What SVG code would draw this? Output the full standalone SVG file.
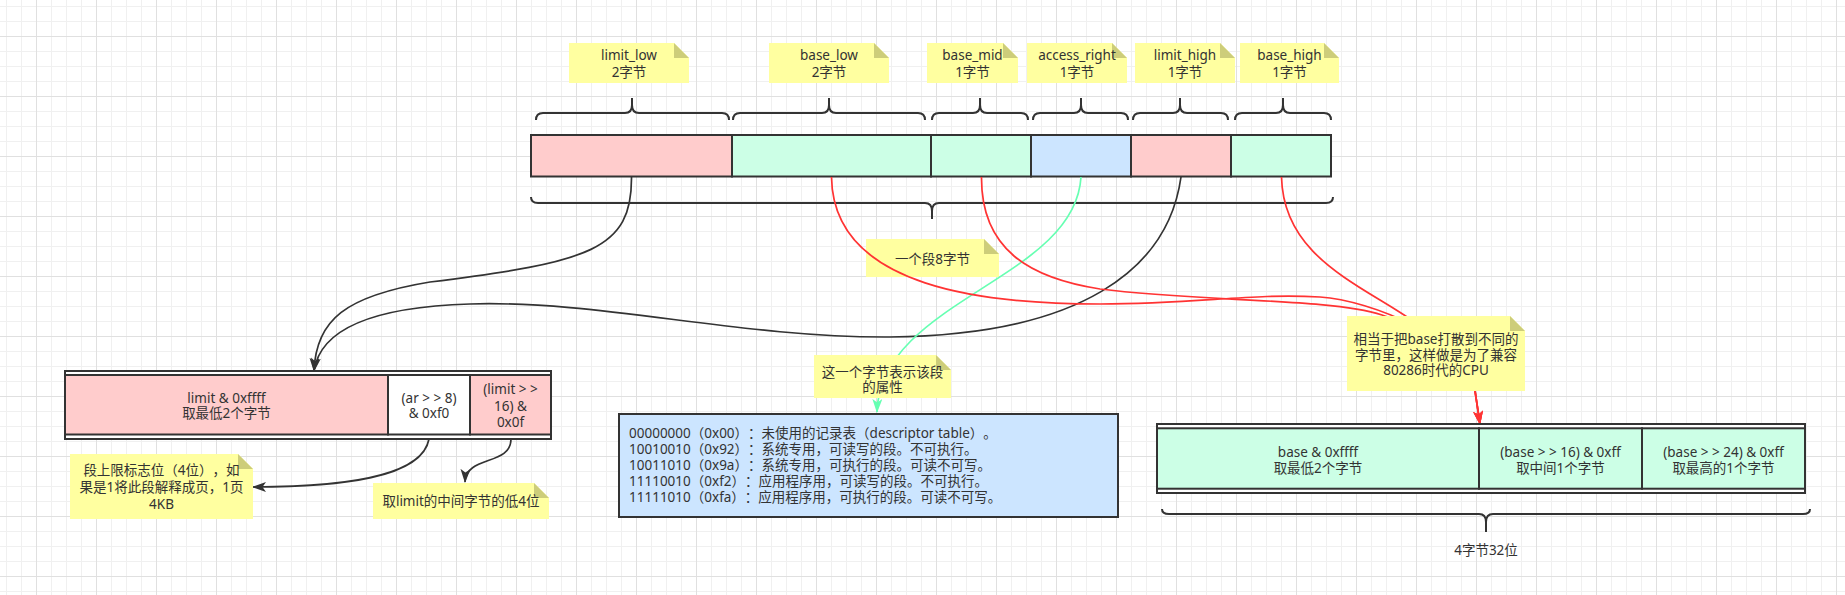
<svg xmlns="http://www.w3.org/2000/svg" width="1845" height="595" viewBox="0 0 1845 595">
<defs>
<pattern id="grid" x="36" y="36" width="60" height="60" patternUnits="userSpaceOnUse">
<path d="M15.5 0V60M30.5 0V60M45.5 0V60M0 15.5H60M0 30.5H60M0 45.5H60" stroke="#F0F0F0" stroke-width="1" fill="none"/>
<path d="M0.5 0V60M0 0.5H60" stroke="#E0E0E0" stroke-width="1" fill="none"/>
</pattern>
<marker id="aBlack" viewBox="0 0 14 10" markerWidth="14" markerHeight="10" refX="13" refY="5" orient="auto" markerUnits="userSpaceOnUse"><path d="M0,0 L14,5 L0,10 L3.5,5 Z" fill="#333333"/></marker>
<marker id="aRed" viewBox="0 0 14 10" markerWidth="14" markerHeight="10" refX="13" refY="5" orient="auto" markerUnits="userSpaceOnUse"><path d="M0,0 L14,5 L0,10 L3.5,5 Z" fill="#FF3333"/></marker>
<marker id="aGreen" viewBox="0 0 14 10" markerWidth="14" markerHeight="10" refX="13" refY="5" orient="auto" markerUnits="userSpaceOnUse"><path d="M0,0 L14,5 L0,10 L3.5,5 Z" fill="#66FFB2"/></marker>
</defs>
<style>
.cell{stroke:#333333;stroke-width:2}
.pink{fill:#FFCCCC}
.green{fill:#CCFFE6}
.blue{fill:#CCE5FF}
.white{fill:#FFFFFF}
.brace{fill:none;stroke:#333333;stroke-width:2}
.note{fill:#FFFFA0}
.fold{fill:#CDCD7A}
text{text-spacing-trim:space-all}
.t{font-family:"Noto Sans","Noto Sans CJK SC",sans-serif;font-size:13.5px;fill:#333333;text-anchor:middle;dominant-baseline:central}
.tl{font-family:"Noto Sans","Noto Sans CJK SC",sans-serif;font-size:13.5px;fill:#333333;text-anchor:start;dominant-baseline:central}
.e{fill:none;stroke-width:1.7}
.eb{stroke:#333333}
.er{stroke:#FF3333}
.eg{stroke:#66FFB2}
</style>
<rect width="1845" height="595" fill="#FFFFFF"/>
<rect width="1845" height="595" fill="url(#grid)"/>

<g id="segment-bar">
<rect class="cell pink" x="531" y="135" width="201" height="41.5"/>
<rect class="cell green" x="732" y="135" width="199" height="41.5"/>
<rect class="cell green" x="931" y="135" width="100" height="41.5"/>
<rect class="cell blue" x="1031" y="135" width="100" height="41.5"/>
<rect class="cell pink" x="1131" y="135" width="100" height="41.5"/>
<rect class="cell green" x="1231" y="135" width="100" height="41.5"/>
</g>

<g id="braces">
<path class="brace" d="M536 120Q536 113 543 113H625Q632 113 632 105V98M632 98V105Q632 113 639 113H722Q729 113 729 120"/>
<path class="brace" d="M733 120Q733 113 740 113H822Q829 113 829 105V98M829 98V105Q829 113 836 113H918Q925 113 925 120"/>
<path class="brace" d="M932 120Q932 113 939 113H973Q980 113 980 105V98M980 98V105Q980 113 987 113H1021Q1028 113 1028 120"/>
<path class="brace" d="M1033 120Q1033 113 1040 113H1074Q1081 113 1081 105V98M1081 98V105Q1081 113 1088 113H1121Q1128 113 1128 120"/>
<path class="brace" d="M1133 120Q1133 113 1140 113H1173Q1180 113 1180 105V98M1180 98V105Q1180 113 1187 113H1221Q1228 113 1228 120"/>
<path class="brace" d="M1235 120Q1235 113 1242 113H1276Q1283 113 1283 105V98M1283 98V105Q1283 113 1290 113H1324Q1331 113 1331 120"/>
<path class="brace" d="M531 197Q531 203 538 203H925Q932 203 932 211V219M932 219V211Q932 203 939 203H1326Q1333 203 1333 197"/>
<path class="brace" d="M1162 509Q1162 514 1169 514H1479Q1486 514 1486 522V532M1486 532V522Q1486 514 1493 514H1803Q1810 514 1810 509"/>
</g>

<g id="note-top-limit-low">
<path class="note" d="M569 43H674L689 58V83H569Z"/><path class="fold" d="M674 43V58H689Z"/>
<text class="t" x="629" y="55">limit_low</text><text class="t" x="629" y="71.7">2字节</text>
</g>
<g id="note-top-base-low">
<path class="note" d="M769 43H874L889 58V83H769Z"/><path class="fold" d="M874 43V58H889Z"/>
<text class="t" x="829" y="55">base_low</text><text class="t" x="829" y="71.7">2字节</text>
</g>
<g id="note-top-base-mid">
<path class="note" d="M927 43H1003L1018 58V83H927Z"/><path class="fold" d="M1003 43V58H1018Z"/>
<text class="t" x="972.5" y="55">base_mid</text><text class="t" x="972.5" y="71.7">1字节</text>
</g>
<g id="note-top-access-right">
<path class="note" d="M1027 43H1112L1127 58V83H1027Z"/><path class="fold" d="M1112 43V58H1127Z"/>
<text class="t" x="1077" y="55">access_right</text><text class="t" x="1077" y="71.7">1字节</text>
</g>
<g id="note-top-limit-high">
<path class="note" d="M1135 43H1220L1235 58V83H1135Z"/><path class="fold" d="M1220 43V58H1235Z"/>
<text class="t" x="1185" y="55">limit_high</text><text class="t" x="1185" y="71.7">1字节</text>
</g>
<g id="note-top-base-high">
<path class="note" d="M1240 43H1324L1339 58V83H1240Z"/><path class="fold" d="M1324 43V58H1339Z"/>
<text class="t" x="1289.5" y="55">base_high</text><text class="t" x="1289.5" y="71.7">1字节</text>
</g>

<g id="note-8bytes">
<path class="note" d="M866 239H984L999 254V277H866Z"/><path class="fold" d="M984 239V254H999Z"/>
<text class="t" x="932.5" y="259">一个段8字节</text>
</g>

<g id="connectors">
<path class="e eb" d="M631.5 177C632 250 590 262 430 282C345 296 316 320 314 371" marker-end="url(#aBlack)"/>
<path class="e eb" d="M1181 177C1168 270 1080 335 890 337C740 338 600 300 470 304C370 307 320 330 314 371" marker-end="url(#aBlack)"/>
<path class="e eg" d="M1081 177C1075 280 880 300 877 412" marker-end="url(#aGreen)"/>
<path class="e er" d="M831.5 177C833 290 990 304 1100 304C1200 304 1250 293 1320 297C1370 300 1470 340 1475 391L1480 424" marker-end="url(#aRed)"/>
<path class="e er" d="M981.5 177C981 250 1030 278 1100 289C1200 302 1330 298 1382 315C1440 335 1472 360 1475 391L1480 424" marker-end="url(#aRed)"/>
<path class="e er" d="M1281.5 177C1283 240 1330 270 1380 300C1430 330 1472 360 1475 391L1480 424" marker-end="url(#aRed)"/>
<path class="e eb" d="M429 439C422 478 340 487 253 487" marker-end="url(#aBlack)"/>
<path class="e eb" d="M511 439C511 466 466 455 465 482" marker-end="url(#aBlack)"/>
</g>

<g id="note-attr">
<path class="note" d="M814 355H936L951 370V398H814Z"/><path class="fold" d="M936 355V370H951Z"/>
<text class="t" x="882.5" y="371.7">这一个字节表示该段</text><text class="t" x="882.5" y="386.7">的属性</text>
</g>
<g id="note-base-scatter">
<path class="note" d="M1347 316H1510L1525 331V391H1347Z"/><path class="fold" d="M1510 316V331H1525Z"/>
<text class="t" x="1436" y="339.3">相当于把base打散到不同的</text>
<text class="t" x="1436" y="354.8">字节里，这样做是为了兼容</text>
<text class="t" x="1436" y="370.3">80286时代的CPU</text>
</g>
<g id="note-granularity">
<path class="note" d="M70 454H238L253 469V519H70Z"/><path class="fold" d="M238 454V469H253Z"/>
<text class="t" x="161.5" y="470">段上限标志位（4位），如</text>
<text class="t" x="161.5" y="487">果是1将此段解释成页，1页</text>
<text class="t" x="161.5" y="504">4KB</text>
</g>
<g id="note-limit-mid">
<path class="note" d="M373 483H534L549 498V519H373Z"/><path class="fold" d="M534 483V498H549Z"/>
<text class="t" x="461" y="501">取limit的中间字节的低4位</text>
</g>

<g id="limit-table">
<rect class="cell white" x="65" y="371" width="486" height="68"/>
<rect class="cell pink" x="65" y="375" width="323" height="59.5"/>
<rect class="cell white" x="388" y="375" width="82" height="59.5"/>
<rect class="cell pink" x="470" y="375" width="81" height="59.5"/>
<text class="t" x="226.5" y="397.7">limit &amp; 0xffff</text>
<text class="t" x="226.5" y="413.3">取最低2个字节</text>
<text class="t" x="429" y="397.7">(ar &gt; &gt; 8)</text>
<text class="t" x="429" y="413.3">&amp; 0xf0</text>
<text class="t" x="510.5" y="389.3">(limit &gt; &gt;</text>
<text class="t" x="510.5" y="405.7">16) &amp;</text>
<text class="t" x="510.5" y="421.7">0x0f</text>
</g>

<g id="access-table">
<rect class="cell blue" x="619" y="414" width="499" height="103"/>
<text class="tl" x="629" y="433.3">00000000（0x00）：未使用的记录表（descriptor table）。</text>
<text class="tl" x="629" y="449">10010010（0x92）：系统专用，可读写的段。不可执行。</text>
<text class="tl" x="629" y="465">10011010（0x9a）：系统专用，可执行的段。可读不可写。</text>
<text class="tl" x="629" y="481">11110010（0xf2）：应用程序用，可读写的段。不可执行。</text>
<text class="tl" x="629" y="497">11111010（0xfa）：应用程序用，可执行的段。可读不可写。</text>
</g>

<g id="base-table">
<rect class="cell white" x="1157" y="424" width="648" height="69"/>
<rect class="cell green" x="1157" y="428.3" width="322" height="60.4"/>
<rect class="cell green" x="1479" y="428.3" width="163" height="60.4"/>
<rect class="cell green" x="1642" y="428.3" width="163" height="60.4"/>
<text class="t" x="1318" y="451.7">base &amp; 0xffff</text>
<text class="t" x="1318" y="468.3">取最低2个字节</text>
<text class="t" x="1560.5" y="451.7">(base &gt; &gt; 16) &amp; 0xff</text>
<text class="t" x="1560.5" y="468.3">取中间1个字节</text>
<text class="t" x="1723.5" y="451.7">(base &gt; &gt; 24) &amp; 0xff</text>
<text class="t" x="1723.5" y="468.3">取最高的1个字节</text>
</g>

<g id="label-32bit">
<text class="t" x="1486" y="550">4字节32位</text>
</g>
</svg>
